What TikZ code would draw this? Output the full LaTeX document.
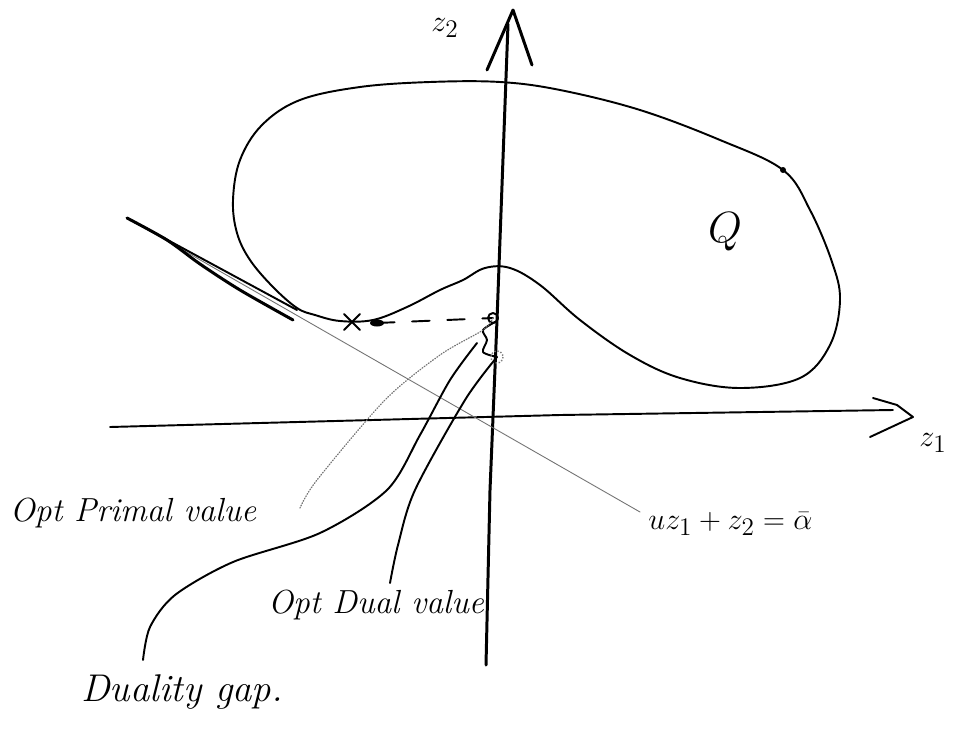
\documentclass[tikz,border=0pt]{standalone}
\usepackage{amsmath}
\begin{document}
\begin{tikzpicture}[x=0.02cm,y=-0.02cm,
  ink/.style={line width=1.1pt, line cap=round, line join=round},
  axisink/.style={line width=1.7pt, line cap=round, line join=round},
  faint/.style={line width=0.5pt, black!55, line cap=round},
  hand/.style={font=\itshape\fontsize{19}{22}\selectfont, inner sep=0pt}]
\useasboundingbox[fill=white] (0,0) rectangle (959,737);

% named points
\coordinate (vtop) at (508,24);
\coordinate (vbot) at (486,665);
\coordinate (hl) at (110,427);
\coordinate (hr) at (893,410);
\coordinate (sl1) at (127,218);
\coordinate (sl2) at (640,512);
\coordinate (xmark) at (352,322);
\coordinate (pdot) at (377,323);
\coordinate (primal) at (493,318);
\coordinate (dual) at (497,357);
\coordinate (qdot) at (783,170);

% blob Q
\draw[ink] plot[smooth cycle, tension=0.6] coordinates {
 (297,308) (273,287) (250,260) (237,233) (233,200) (240,160) (262,125)
 (300,100) (360,87) (430,82) (500,82) (560,90) (640,110) (720,140)
 (783,170) (810,210) (832,262) (840,300) (830,345) (800,378) (740,388)
 (680,378) (630,355) (580,320) (540,285) (510,268) (485,268) (463,280)
 (440,290) (407,307) (373,320) (340,321) (315,315)};
\fill (qdot) circle (3);

% axes
\draw[axisink] (vbot) -- (490,490) -- (497,320) -- (vtop);
\draw[axisink] (487,70) -- (513,10) -- (532,65);
\draw[ink] (hl) -- (560,415) -- (hr);
\draw[ink] (873,398) -- (897,405) -- (913,417) -- (870,437);

% supporting line and sliver
\draw[faint] (sl1) -- (sl2);
\draw[ink] (sl1) -- (297,310);
\draw[axisink] plot[smooth] coordinates {(sl1) (167,240) (200,264) (240,290) (293,320)};

% points on the boundary and dashed projection
\draw[ink] (344,314) -- (360,330) (360,314) -- (344,330);
\fill (pdot) ellipse (7 and 3.5);
\draw[ink, dash pattern=on 10pt off 10pt] (pdot) -- (primal);
\draw[ink] (primal) circle (5);
\draw[ink] plot[smooth] coordinates {(497,321) (483,330) (487,340) (483,352) (dual)};
\draw[black!50, densely dotted, line width=0.8pt] (dual) circle (6);

% leaders
\draw[faint, densely dotted, line width=0.7pt] plot[smooth] coordinates {(primal) (483,330) (440,355) (385,400) (317,480) (300,508)};
\draw[ink] plot[smooth] coordinates {(477,343) (450,380) (420,435) (387,490) (320,533) (233,562) (175,595) (150,627) (143,660)};
\draw[ink] plot[smooth] coordinates {(dual) (465,400) (415,490) (398,545) (390,583)};

% labels
\node[hand] (z2lab) at (445,28) {$z_2$};
\node[hand] (z1lab) at (933,443) {$z_1$};
\node[font=\itshape\fontsize{40}{44}\selectfont, inner sep=0pt] (qlab) at (725,232) {$Q$};
\node[hand] (primlab) at (133,513) {Opt Primal value};
\node[hand] (duallab) at (376,605) {Opt Dual value};
\node[hand, font=\itshape\fontsize{22}{26}\selectfont] (gaplab) at (182,692) {Duality gap.};
\node[hand, anchor=west] (linelab) at (648,524) {$uz_1+z_2=\bar{\alpha}$};
\end{tikzpicture}
\end{document}
